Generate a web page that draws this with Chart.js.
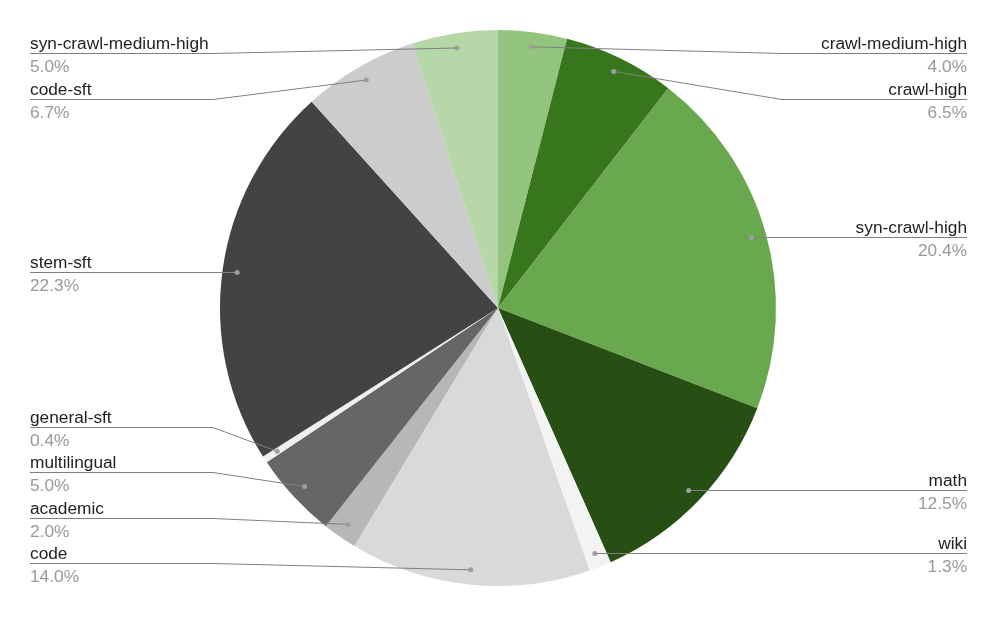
<!DOCTYPE html>
<html>
<head>
<meta charset="utf-8">
<script src="https://cdn.jsdelivr.net/npm/chart.js@4"></script>
<style>
  html, body { margin: 0; padding: 0; background: #fff; }
  #wrap { width: 996px; height: 617px; position: relative; }
</style>
</head>
<body>
<div id="wrap"><canvas id="mixChart" width="996" height="617"></canvas></div>
<script>
const categories = [
    'crawl-medium-high', 'crawl-high', 'syn-crawl-high', 'math', 'wiki', 'code',
    'academic', 'multilingual', 'general-sft', 'stem-sft', 'code-sft', 'syn-crawl-medium-high'
]
const shares = [4.0, 6.5, 20.4, 12.5, 1.3, 14.0, 2.0, 5.0, 0.4, 22.3, 6.7, 5.0]
const colors = [
    '#93c47d', '#38761d', '#6aa84f', '#274e13', '#f3f3f3', '#d9d9d9',
    '#b7b7b7', '#666666', '#efefef', '#434343', '#cccccc', '#b6d7a8'
]

// leader lines + labels, google-sheets style
const sideLabels = {
    id: 'sideLabels',
    afterDraw(chart) {
        const ctx = chart.ctx
        const meta = chart.getDatasetMeta(0)
        const leftX = 30, rightX = 967
        const leftBend = 213, rightBend = 782
        const minY = 53, maxY = 563, gap = 45.5

        const items = meta.data.map((arc, i) => {
            const mid = (arc.startAngle + arc.endAngle) / 2
            const r = arc.outerRadius * 0.947
            const px = arc.x + Math.cos(mid) * r
            const py = arc.y + Math.sin(mid) * r
            return { i, px, py, right: px >= arc.x, y: py }
        })

        ;[true, false].forEach(side => {
            const list = items.filter(it => it.right === side).sort((a, b) => a.py - b.py)
            list.forEach(it => { it.y = Math.min(maxY, Math.max(minY, it.py)) })
            for (let k = 1; k < list.length; k++) {
                if (list[k].y < list[k - 1].y + gap) list[k].y = list[k - 1].y + gap
            }
            if (list.length && list[list.length - 1].y > maxY) list[list.length - 1].y = maxY
            for (let k = list.length - 2; k >= 0; k--) {
                if (list[k].y > list[k + 1].y - gap) list[k].y = list[k + 1].y - gap
            }
        })

        ctx.save()
        items.forEach(it => {
            const edge = it.right ? rightX : leftX
            const bend = it.right ? Math.max(rightBend, it.px) : Math.min(leftBend, it.px)
            const ly = Math.round(it.y) + 0.5
            const straight = Math.abs(it.y - it.py) < 1
            const dy = straight ? ly : it.py
            ctx.strokeStyle = '#7f7f7f'
            ctx.lineWidth = 1
            ctx.beginPath()
            ctx.moveTo(it.px, dy)
            if (!straight) ctx.lineTo(bend, ly)
            ctx.lineTo(edge, ly)
            ctx.stroke()

            ctx.fillStyle = '#9e9e9e'
            ctx.beginPath()
            ctx.arc(it.px, dy, 2.5, 0, Math.PI * 2)
            ctx.fill()

            ctx.font = '17.3px "Liberation Sans", Arial, sans-serif'
            ctx.textAlign = it.right ? 'right' : 'left'
            ctx.textBaseline = 'alphabetic'
            ctx.fillStyle = '#222222'
            ctx.fillText(categories[it.i], edge, ly - 5)
            ctx.fillStyle = '#999999'
            ctx.fillText(shares[it.i].toFixed(1) + '%', edge, ly + 18)
        })
        ctx.restore()
    }
}

new Chart(document.getElementById('mixChart'), {
    type: 'pie',
    data: {
        labels: categories,
        datasets: [{
            data: shares,
            backgroundColor: colors,
            borderWidth: 0
        }]
    },
    options: {
        responsive: false,
        animation: false,
        layout: { padding: { top: 30, bottom: 31 } },
        plugins: {
            legend: { display: false },
            tooltip: { enabled: false }
        }
    },
    plugins: [sideLabels]
})
</script>
</body>
</html>
